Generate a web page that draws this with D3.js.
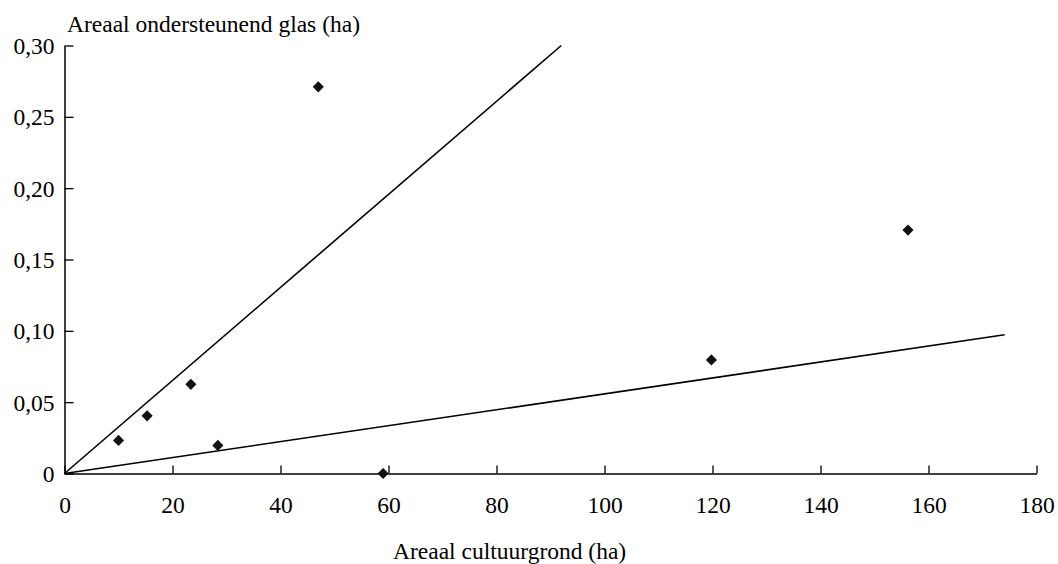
<!DOCTYPE html>
<html><head><meta charset="utf-8">
<script src="https://cdn.jsdelivr.net/npm/d3@7"></script>
<style>body{margin:0;background:#fff}svg{display:block}text{font-family:"Liberation Serif","Times New Roman",serif;fill:#000}</style>
</head><body>
<svg id="c" width="1058" height="564"></svg>
<script>
const pointsX = [10.0, 15.3, 23.4, 28.4, 47.0, 59.0, 119.8, 156.2];
const pointsY = [0.0232, 0.0404, 0.0625, 0.0197, 0.271, 0.0, 0.0796, 0.1706];
const lineSteep = [[0, 0], [92, 0.30]];
const lineFlat = [[0, 0], [174.1, 0.0972]];
const xTicks = [0, 20, 40, 60, 80, 100, 120, 140, 160, 180];
const yTicks = [0, 0.05, 0.10, 0.15, 0.20, 0.25, 0.30];
const yTickLabels = ["0", "0,05", "0,10", "0,15", "0,20", "0,25", "0,30"];
const xTitle = "Areaal cultuurgrond (ha)";
const yTitle = "Areaal ondersteunend glas (ha)";

const svg = d3.select("#c");
const x = d3.scaleLinear().domain([0, 180]).range([64.5, 1036.5]);
const y = d3.scaleLinear().domain([0, 0.30]).range([473.5, 45.5]);
const fs = 23.5;

// X axis
const xa = svg.append("g").attr("transform", `translate(0,${y(0)})`)
  .call(d3.axisBottom(x).tickValues(xTicks).tickSizeInner(-8).tickSizeOuter(0).tickPadding(0).tickFormat(d3.format("d")));
xa.select(".domain").attr("stroke", "#000").attr("stroke-width", 1.5);
xa.selectAll(".tick line").attr("stroke", "#000").attr("stroke-width", 1.3);
xa.selectAll(".tick text").attr("font-size", fs).attr("dy", 0).attr("y", 39);

// Y axis
const ya = svg.append("g").attr("transform", `translate(${x(0)},0)`)
  .call(d3.axisLeft(y).tickValues(yTicks).tickSizeInner(-9).tickSizeOuter(0).tickPadding(0)
    .tickFormat((d, i) => yTickLabels[i]));
ya.select(".domain").attr("stroke", "#000").attr("stroke-width", 1.5);
ya.selectAll(".tick line").attr("stroke", "#000").attr("stroke-width", 1.3);
ya.selectAll(".tick text").attr("font-size", fs).attr("x", -10).attr("dy", "0.34em");

// Lines
const line = d3.line().x(d => x(d[0])).y(d => y(d[1]));
[lineSteep, lineFlat].forEach(l => {
  svg.append("path").attr("d", line(l)).attr("fill", "none").attr("stroke", "#000").attr("stroke-width", 1.6);
});

// Points
const sym = d3.symbol().type(d3.symbolSquare).size(62);
svg.selectAll(".pt").data(pointsX.map((v, i) => [v, pointsY[i]])).join("path")
  .attr("class", "pt")
  .attr("d", sym)
  .attr("fill", "#111")
  .attr("transform", d => `translate(${x(d[0])},${y(d[1])}) rotate(45)`);

// Titles
svg.append("text").attr("x", 67).attr("y", 32).attr("font-size", fs).text(yTitle);
svg.append("text").attr("x", 393).attr("y", 559).attr("font-size", fs).text(xTitle);
</script>
</body></html>
